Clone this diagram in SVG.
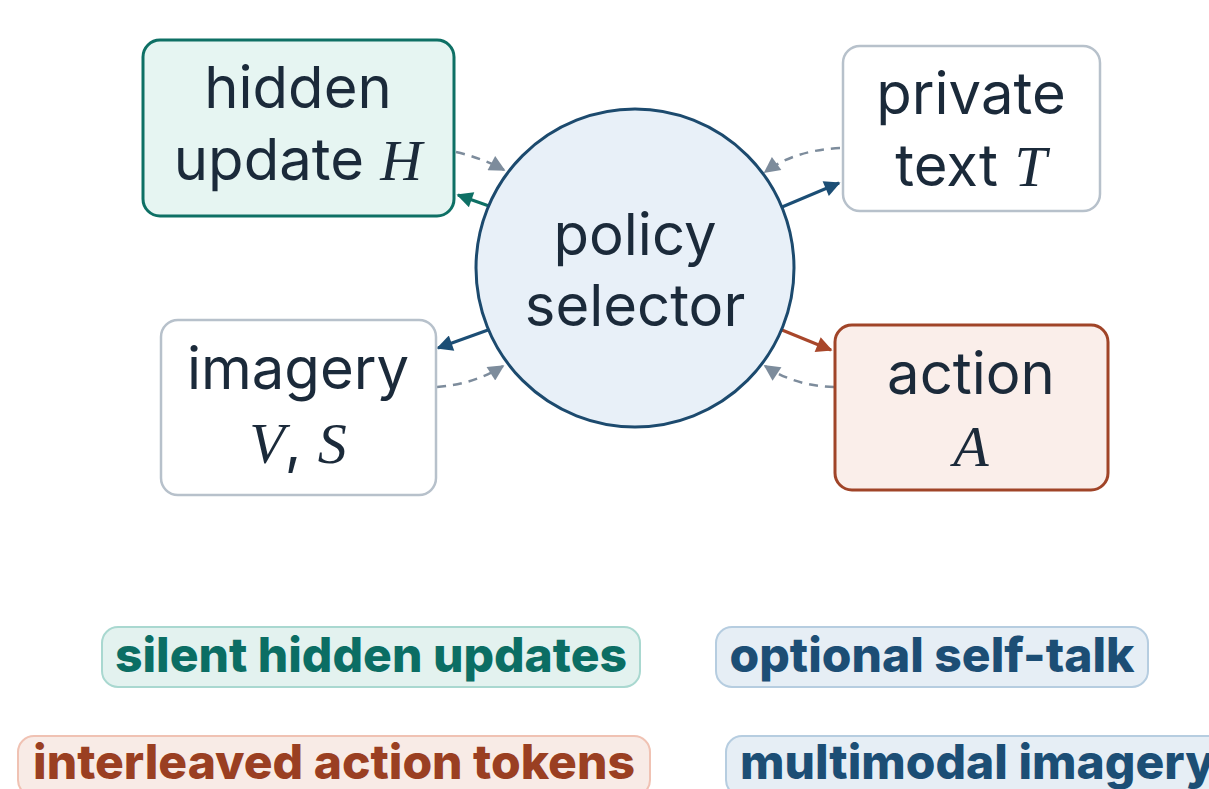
<svg xmlns="http://www.w3.org/2000/svg" width="1209" height="789" viewBox="0 0 1209 789">
  <style>
    .lbl { font-family: Inter, "Noto Sans", "DejaVu Sans", sans-serif; font-size: 58px; fill: #1b2a3a; text-anchor: middle; }
    .math { font-family: "Liberation Serif", "DejaVu Serif", serif; font-style: italic; }
    .tag { font-family: Inter, "Noto Sans", "DejaVu Sans", sans-serif; font-size: 48px; font-weight: 800; }
    .solid { fill: none; stroke-width: 3; }
    .dash { fill: none; stroke: #7d8c9c; stroke-width: 2.5; stroke-dasharray: 9 7; }
  </style>
  <defs>
    <marker id="ah-teal" viewBox="0 0 10 10" refX="9" refY="5" markerWidth="18" markerHeight="16" markerUnits="userSpaceOnUse" orient="auto">
      <path d="M0,0 L10,5 L0,10 z" fill="#0e7065"/>
    </marker>
    <marker id="ah-blue" viewBox="0 0 10 10" refX="9" refY="5" markerWidth="18" markerHeight="16" markerUnits="userSpaceOnUse" orient="auto">
      <path d="M0,0 L10,5 L0,10 z" fill="#1c4e75"/>
    </marker>
    <marker id="ah-rust" viewBox="0 0 10 10" refX="9" refY="5" markerWidth="18" markerHeight="16" markerUnits="userSpaceOnUse" orient="auto">
      <path d="M0,0 L10,5 L0,10 z" fill="#a8462a"/>
    </marker>
    <marker id="ah-gray" viewBox="0 0 10 10" refX="9" refY="5" markerWidth="18" markerHeight="16" markerUnits="userSpaceOnUse" orient="auto">
      <path d="M0,0 L10,5 L0,10 z" fill="#7d8c9c"/>
    </marker>
  </defs>

  <rect width="1209" height="789" fill="#ffffff"/>

  <!-- connectors -->
  <g id="connectors">
    <path class="solid" d="M489,206 L458,195" stroke="#0e7065" marker-end="url(#ah-teal)"/>
    <path class="dash" d="M456,152 Q482,158 504,170" marker-end="url(#ah-gray)"/>
    <path class="solid" d="M782,207 L839,183" stroke="#1c4e75" marker-end="url(#ah-blue)"/>
    <path class="dash" d="M840,148 Q795,150 765,172" marker-end="url(#ah-gray)"/>
    <path class="solid" d="M488,330 L438,348" stroke="#1c4e75" marker-end="url(#ah-blue)"/>
    <path class="dash" d="M437,387 Q475,384 503,366" marker-end="url(#ah-gray)"/>
    <path class="solid" d="M782,330 L831,350" stroke="#a8462a" marker-end="url(#ah-rust)"/>
    <path class="dash" d="M834,387 Q795,386 765,366" marker-end="url(#ah-gray)"/>
  </g>

  <!-- centre node -->
  <g id="policy-selector">
    <circle cx="635" cy="268" r="159" fill="#e8f0f8" stroke="#1c4a6e" stroke-width="3"/>
    <text class="lbl" x="635" y="255">policy</text>
    <text class="lbl" x="635" y="326">selector</text>
  </g>

  <g id="hidden-update">
    <rect x="143" y="40" width="311" height="176" rx="17" fill="#e6f5f2" stroke="#0e7065" stroke-width="3"/>
    <text class="lbl" x="298" y="108">hidden</text>
    <text class="lbl" x="298" y="180">update <tspan class="math">H</tspan></text>
  </g>

  <g id="private-text">
    <rect x="843" y="46" width="257" height="165" rx="17" fill="#ffffff" stroke="#b7c1cb" stroke-width="2.5"/>
    <text class="lbl" x="971" y="114">private</text>
    <text class="lbl" x="971" y="186">text <tspan class="math">T</tspan></text>
  </g>

  <g id="imagery">
    <rect x="161" y="320" width="275" height="175" rx="17" fill="#ffffff" stroke="#b7c1cb" stroke-width="2.5"/>
    <text class="lbl" x="298" y="389">imagery</text>
    <text class="lbl math" x="298" y="463">V<tspan class="lbl" style="font-style:normal">, </tspan>S</text>
  </g>

  <g id="action">
    <rect x="835" y="325" width="273" height="165" rx="17" fill="#faeeea" stroke="#a04428" stroke-width="3"/>
    <text class="lbl" x="971" y="394">action</text>
    <text class="lbl math" x="971" y="466">A</text>
  </g>

  <!-- legend tags -->
  <g id="tag-silent">
    <rect x="102" y="627" width="538" height="60" rx="16" fill="#e3f2ef" stroke="#a9d8d0" stroke-width="2"/>
    <text class="tag" x="371" y="672" text-anchor="middle" fill="#0b6e64">silent hidden updates</text>
  </g>
  <g id="tag-selftalk">
    <rect x="716" y="627" width="432" height="60" rx="16" fill="#e6eef5" stroke="#b6cde0" stroke-width="2"/>
    <text class="tag" x="932" y="672" text-anchor="middle" fill="#1c4e75">optional self-talk</text>
  </g>
  <g id="tag-action">
    <rect x="18" y="736" width="632" height="60" rx="16" fill="#f8ebe6" stroke="#f0c2b3" stroke-width="2"/>
    <text class="tag" x="334" y="779" text-anchor="middle" fill="#9a3f22">interleaved action tokens</text>
  </g>
  <g id="tag-imagery">
    <rect x="726" y="736" width="520" height="60" rx="16" fill="#e6eef5" stroke="#b6cde0" stroke-width="2"/>
    <text class="tag" x="740" y="779" fill="#1c4e75">multimodal imagery</text>
  </g>
</svg>
